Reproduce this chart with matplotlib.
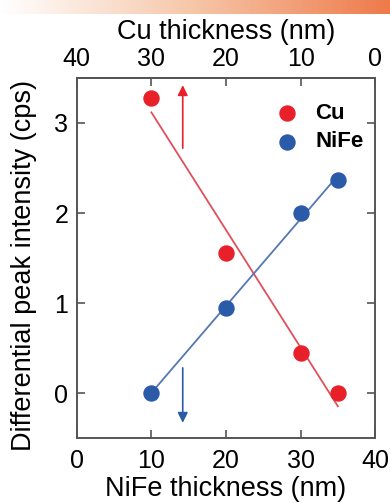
import numpy as np
import matplotlib
matplotlib.use("Agg")
from matplotlib import pyplot as plt
from matplotlib.colors import LinearSegmentedColormap

plt.rcParams['font.family'] = ['Liberation Sans', 'DejaVu Sans']

# NiFe thickness (nm) of each sample; Cu thickness = 40 - NiFe
nife_thk = [10, 20, 30, 35]
cu_int = [3.28, 1.56, 0.45, 0.0]
nife_int = [0.0, 0.95, 2.0, 2.37]

xticks = [0, 10, 20, 30, 40]
cu_ticks = [40, 30, 20, 10, 0]
yticks = [0, 1, 2, 3]

red = '#e8202a'
blue = '#2b5aa8'
axcol = '#555555'

fig = plt.figure(figsize=(3.9, 5.03), dpi=100)

# orange gradient strip along the top (slide decoration)
grad = fig.add_axes([0, 0.972, 1, 0.028])
g = np.linspace(0, 1, 256).reshape(1, -1)
cm = LinearSegmentedColormap.from_list('strip', ['#ffffff', '#f6c6a8', '#ee7a4a'])
grad.imshow(g, aspect='auto', cmap=cm)
grad.axis('off')

ax = fig.add_axes([0.197, 0.129, 0.765, 0.716])

# linear fits
xs = np.array(nife_thk, dtype=float)
pc = np.polyfit(xs, cu_int, 1)
pn = np.polyfit(xs, nife_int, 1)
xl = np.array([xs[0], xs[-1]])
ax.plot(xl, np.polyval(pc, xl), color='#e0505a', lw=1.3, zorder=2)
ax.plot(xl, np.polyval(pn, xl), color='#5577b5', lw=1.3, zorder=2)

ax.plot(nife_thk, cu_int, 'o', color=red, ms=10.8, zorder=3)
ax.plot(nife_thk, nife_int, 'o', color=blue, ms=10.8, zorder=3)

# arrows indicating which axis belongs to which series
ax.annotate('', xy=(14.2, 3.42), xytext=(14.2, 2.72),
            arrowprops=dict(arrowstyle='-|>', color=red, lw=1.2,
                            mutation_scale=15, shrinkA=0, shrinkB=0))
ax.annotate('', xy=(14.2, -0.33), xytext=(14.2, 0.28),
            arrowprops=dict(arrowstyle='-|>', color=blue, lw=1.2,
                            mutation_scale=15, shrinkA=0, shrinkB=0))

# legend drawn by hand
ax.plot([28.2], [3.11], 'o', color=red, ms=10.8)
ax.plot([28.2], [2.79], 'o', color=blue, ms=10.8)
ax.text(32.0, 3.11, 'Cu', fontsize=16, fontweight='bold', va='center')
ax.text(32.0, 2.79, 'NiFe', fontsize=16, fontweight='bold', va='center')

ax.set_xlim(0, 40)
ax.set_ylim(-0.5, 3.5)
ax.set_xticks(xticks)
ax.set_yticks(yticks)
ax.set_xlabel('NiFe thickness (nm)', fontsize=19.5, labelpad=2)
ax.set_ylabel('Differential peak intensity (cps)', fontsize=19.5)
ax.yaxis.set_label_coords(-0.134, 0.478)
ax.tick_params(direction='in', length=6, width=1.2, color=axcol,
               labelsize=18, right=True, pad=6)
ax.tick_params(axis='x', pad=8)

top = ax.secondary_xaxis('top', functions=(lambda v: 40 - v, lambda v: 40 - v))
top.set_xticks(cu_ticks)
top.set_xlabel('Cu thickness (nm)', fontsize=19.5, labelpad=6)
top.tick_params(direction='in', length=6, width=1.2, color=axcol,
                labelsize=18, pad=5)

for s in list(ax.spines.values()) + list(top.spines.values()):
    s.set_color(axcol)
    s.set_linewidth(1.4)

fig.savefig('out.png', dpi=100)
